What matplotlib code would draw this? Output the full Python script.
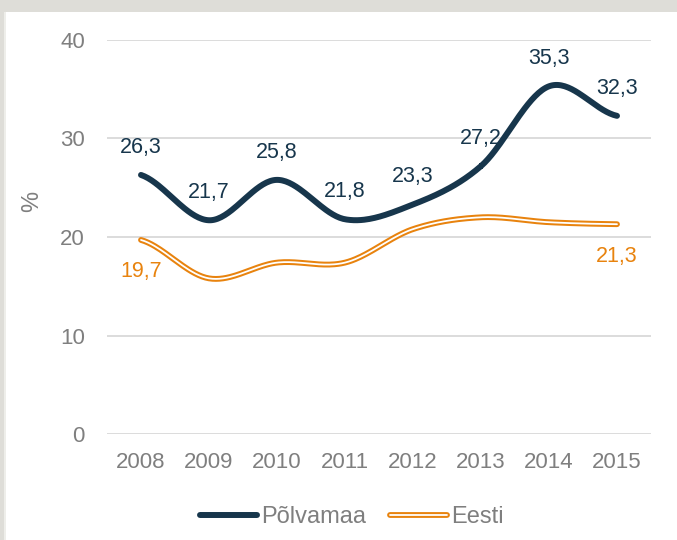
import numpy as np
import matplotlib
matplotlib.use("Agg")
import matplotlib.pyplot as plt
import matplotlib.patheffects as pe
from matplotlib.patches import Rectangle

plt.rcParams['font.family'] = ['Liberation Sans', 'DejaVu Sans']

# Data
years = ['2008', '2009', '2010', '2011', '2012', '2013', '2014', '2015']
polvamaa = [26.3, 21.7, 25.8, 21.8, 23.3, 27.2, 35.3, 32.3]
eesti = [19.7, 15.8, 17.4, 17.4, 20.8, 22.0, 21.5, 21.3]
eesti_labeled = {0: '19,7', 7: '21,3'}

navy = '#17364c'
orange = '#e8830e'
grey = '#7f7f7f'


def smooth(xs, ys, n=40):
    # Catmull-Rom curve through the points, like Excel's smoothed line
    xs = np.asarray(xs, float)
    ys = np.asarray(ys, float)
    px = np.concatenate([[2 * xs[0] - xs[1]], xs, [2 * xs[-1] - xs[-2]]])
    py = np.concatenate([[ys[0]], ys, [ys[-1]]])
    out_x, out_y = [], []
    t = np.linspace(0, 1, n)
    for i in range(1, len(px) - 2):
        p0, p1, p2, p3 = py[i - 1], py[i], py[i + 1], py[i + 2]
        q0, q1, q2, q3 = px[i - 1], px[i], px[i + 1], px[i + 2]
        cy = 0.5 * ((2 * p1) + (-p0 + p2) * t + (2 * p0 - 5 * p1 + 4 * p2 - p3) * t**2
                    + (-p0 + 3 * p1 - 3 * p2 + p3) * t**3)
        cx = 0.5 * ((2 * q1) + (-q0 + q2) * t + (2 * q0 - 5 * q1 + 4 * q2 - q3) * t**2
                    + (-q0 + 3 * q1 - 3 * q2 + q3) * t**3)
        out_x.extend(cx)
        out_y.extend(cy)
    return np.array(out_x), np.array(out_y)


fig = plt.figure(figsize=(6.77, 5.40), dpi=100)
fig.patch.set_facecolor('white')

# grey frame around the chart
fig.patches.append(Rectangle((0, 528 / 540), 1, 12 / 540, transform=fig.transFigure,
                             facecolor='#deddd8', edgecolor='none'))
fig.patches.append(Rectangle((0, 0), 4 / 677, 1, transform=fig.transFigure,
                             facecolor='#deddd8', edgecolor='none'))
fig.patches.append(Rectangle((4 / 677, 0), 2 / 677, 528 / 540, transform=fig.transFigure,
                             facecolor='#eeeeea', edgecolor='none'))

ax = fig.add_axes([107 / 677, 1 - 434 / 540, (651 - 107) / 677, (434 - 40) / 540])

x = np.arange(len(years))

sx, sy = smooth(x, polvamaa)
ax.plot(sx, sy, color=navy, lw=4.3, solid_capstyle='round', label='Põlvamaa', zorder=3)

ex, ey = smooth(x, eesti)
ax.plot(ex, ey, color='white', lw=1.3, solid_capstyle='round', label='Eesti', zorder=3,
        path_effects=[pe.Stroke(linewidth=4.2, foreground=orange, capstyle='round'), pe.Normal()])

for i, v in enumerate(polvamaa):
    ax.annotate(f'{v:.1f}'.replace('.', ','), (x[i], v), xytext=(0, 20),
                textcoords='offset points', ha='center', va='center',
                fontsize=15.5, color=navy, zorder=4)

for i, txt in eesti_labeled.items():
    ax.annotate(txt, (x[i], eesti[i]), xytext=(0, -23),
                textcoords='offset points', ha='center', va='center',
                fontsize=15.5, color=orange, zorder=4)

ax.set_xlim(-0.5, len(years) - 0.5)
ax.set_ylim(0, 40)
ax.set_yticks([0, 10, 20, 30, 40])
ax.set_xticks(x)
ax.set_xticklabels(years)
ax.tick_params(axis='both', length=0, labelsize=16, labelcolor=grey)
ax.tick_params(axis='x', pad=13)
ax.tick_params(axis='y', pad=16)
ax.grid(axis='y', color='#d9d9d9', lw=1.3)
ax.set_axisbelow(True)
for s in ax.spines.values():
    s.set_visible(False)

ax.set_ylabel('%', fontsize=17, color=grey)
ax.yaxis.set_label_coords(-0.118, 0.59)

ax.legend(loc='center', bbox_to_anchor=(352 / 677, 1 - 517 / 540),
          bbox_transform=fig.transFigure, ncol=2, frameon=False,
          fontsize=17, labelcolor=grey, handlelength=2.4, handletextpad=0.2,
          columnspacing=1.0)

fig.savefig('out.png', dpi=100, facecolor='white')
